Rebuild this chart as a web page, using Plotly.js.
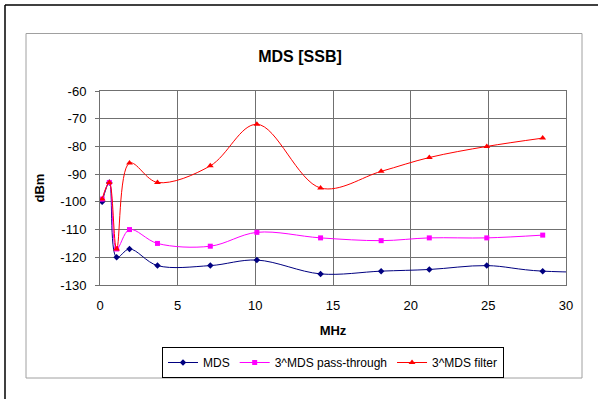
<!DOCTYPE html>
<html>
<head>
<meta charset="utf-8">
<script src="https://cdn.plot.ly/plotly-3.0.1.min.js"></script>
<style>html,body{margin:0;padding:0;background:#fff;}#chart{width:598px;height:399px;}</style>
</head>
<body>
<div id="chart"></div>
<script>
// Frequencies (MHz)
const freqMain = [0.14, 0.6, 1.07, 1.9, 3.7, 7.1, 10.1, 14.2, 18.1, 21.2, 24.9, 28.5];
const freqMDS = [0.14, 0.6, 1.07, 1.9, 3.7, 7.1, 10.1, 14.2, 18.1, 21.2, 24.9, 28.5, 50];
// Series values (dBm)
const mds = [-100, -93, -120, -117, -123, -123, -121, -126, -125, -124.4, -123, -125, -125];
const passThrough = [-99, -93, -117, -110, -115, -116, -111, -113, -114, -113, -113, -112];
const filter3 = [-99, -93, -117, -86, -93, -87, -72, -95, -89, -84, -80, -77];
const seriesNames = ["MDS", "3^MDS pass-through", "3^MDS filter"];
const xTicks = [0, 5, 10, 15, 20, 25, 30];
const yTicks = [-130, -120, -110, -100, -90, -80, -70, -60];

const FONT = "Liberation Sans, Arial, sans-serif";
const L = 100, R = 566, T = 91, B = 285;
const px = v => (v - L) / (R - L);
const py = v => (B - v) / (B - T);

const traces = [
  {x: freqMDS, y: mds, name: seriesNames[0], mode: "lines+markers",
   line: {color: "#000080", width: 1, shape: "spline", smoothing: 1},
   marker: {symbol: "diamond", size: 5, color: "#000080"}},
  {x: freqMain, y: passThrough, name: seriesNames[1], mode: "lines+markers",
   line: {color: "#FF00FF", width: 1, shape: "spline", smoothing: 1},
   marker: {symbol: "square", size: 5, color: "#FF00FF"}},
  {x: freqMain, y: filter3, name: seriesNames[2], mode: "lines+markers",
   line: {color: "#FF0000", width: 1, shape: "spline", smoothing: 1},
   marker: {symbol: "triangle-up", size: 6, color: "#FF0000"}}
];

const layout = {
  width: 598, height: 399,
  margin: {l: L, r: 598 - R, t: T, b: 399 - B, pad: 0},
  paper_bgcolor: "#ffffff", plot_bgcolor: "#ffffff",
  font: {family: FONT, size: 12, color: "#000"},
  showlegend: true,
  title: {text: "<b>MDS [SSB]</b>", font: {family: FONT, size: 16, color: "#000"},
          xref: "container", x: 300 / 598, xanchor: "center",
          yref: "container", y: 1 - 56 / 399, yanchor: "middle"},
  xaxis: {range: [0, 30], tickvals: xTicks, ticktext: xTicks.map(String),
          showgrid: true, gridcolor: "#707070", gridwidth: 1, zeroline: false,
          showline: true, linecolor: "#707070", mirror: true, ticks: "",
          tickfont: {family: FONT, size: 13}, ticklabelstandoff: 8,
          title: {text: "<b>MHz</b>", font: {family: FONT, size: 13}, standoff: 14}},
  yaxis: {range: [-130, -60], tickvals: yTicks, ticktext: yTicks.map(String),
          showgrid: true, gridcolor: "#707070", gridwidth: 1, zeroline: false,
          showline: true, linecolor: "#707070", mirror: true, ticks: "outside",
          ticklen: 4, tickcolor: "#707070",
          tickfont: {family: FONT, size: 13}, ticklabelstandoff: 6,
          title: {text: "<b>dBm</b>", font: {family: FONT, size: 13}, standoff: 12}},
  legend: {orientation: "h", x: 0.5, xanchor: "center", y: py(347), yanchor: "top",
           bordercolor: "#000", borderwidth: 1, bgcolor: "#fff",
           font: {family: FONT, size: 12}, itemwidth: 30, tracegroupgap: 0},
  shapes: [
    {type: "rect", xref: "paper", yref: "paper", x0: px(26), x1: px(582), y0: py(378), y1: py(33.5),
     line: {color: "#a0a0a0", width: 1}, layer: "below"},
    {type: "line", xref: "paper", yref: "paper", x0: px(5), x1: px(5), y0: py(5), y1: py(399),
     line: {color: "#000", width: 1.5}},
    {type: "line", xref: "paper", yref: "paper", x0: px(5), x1: px(598), y0: py(5), y1: py(5),
     line: {color: "#000", width: 1.5}}
  ]
};

Plotly.newPlot("chart", traces, layout, {displayModeBar: false, staticPlot: true});
</script>
</body>
</html>
